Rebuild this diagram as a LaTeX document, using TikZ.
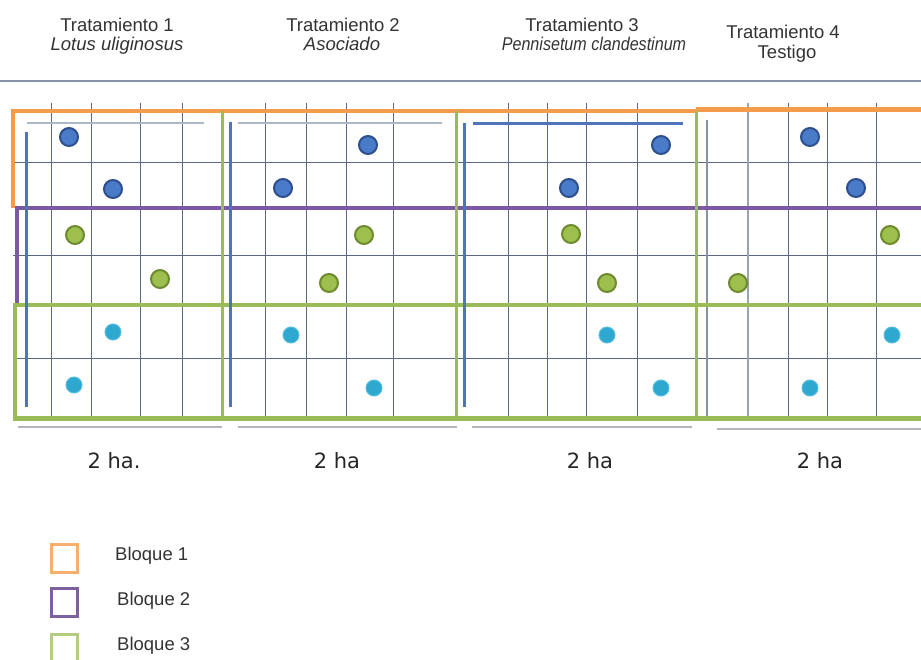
\documentclass[tikz,border=0pt]{standalone}
\usepackage{fontspec}
\setmainfont{Liberation Sans}
\newfontfamily\areafont{DejaVu Sans}
\usetikzlibrary{shapes.geometric}

\definecolor{gridc}{HTML}{5B6784}
\definecolor{gridpale}{HTML}{9AA3B2}
\definecolor{orangeb}{HTML}{F59B4C}
\definecolor{purpleb}{HTML}{7D58A6}
\definecolor{greenb}{HTML}{9BBB59}
\definecolor{accent}{HTML}{4F74B8}
\definecolor{paleacc}{HTML}{AEB7C6}
\definecolor{sepline}{HTML}{8493A8}
\definecolor{underline}{HTML}{B2B6BC}
\definecolor{dotblue}{HTML}{4A7BC8}
\definecolor{dotblueb}{HTML}{2E4E8C}
\definecolor{dotgreen}{HTML}{9CBF4E}
\definecolor{dotgreenb}{HTML}{6E8A2E}
\definecolor{dotcyan}{HTML}{2FA8CF}
\definecolor{dotcyanb}{HTML}{58BEDF}
\definecolor{txt}{HTML}{333333}

\tikzset{
  gridline/.style={draw=gridc, line width=1pt},
  blockone/.style={draw=orangeb, line width=4pt},
  blocktwo/.style={draw=purpleb, line width=4pt},
  blockthree/.style={draw=greenb, line width=4pt},
  plotedge/.style={draw=greenb, line width=3pt},
  accentline/.style={draw=accent, line width=3pt},
  paleline/.style={draw=paleacc, line width=2pt},
  baseline/.style={draw=underline, line width=2.5pt},
  dotb/.style={circle, inner sep=0pt, minimum size=18pt, fill=dotblue, draw=dotblueb, line width=2pt},
  dotg/.style={circle, inner sep=0pt, minimum size=18pt, fill=dotgreen, draw=dotgreenb, line width=2pt},
  dotc/.style={circle, inner sep=0pt, minimum size=16pt, fill=dotcyan, draw=dotcyanb, line width=1pt},
  head/.style={anchor=base, inner sep=0pt, text=txt, font=\fontsize{18.5}{18}\selectfont},
  area/.style={anchor=base, inner sep=0pt, text=black!85, font=\areafont\fontsize{21}{21}\selectfont},
  legbox/.style={draw, line width=3pt, minimum width=26pt, minimum height=28pt, inner sep=0pt},
  legtext/.style={anchor=base west, inner sep=0pt, text=txt, font=\fontsize{18.5}{18}\selectfont}
}

\begin{document}
\begin{tikzpicture}[x=1pt, y=-1pt]
\useasboundingbox (0,0) rectangle (921,659);

% header
\node[head] (h1a) at (117,31) {Tratamiento 1};
\node[head] (h1b) at (117,50) {\itshape Lotus uliginosus};
\node[head] (h2a) at (343,31) {Tratamiento 2};
\node[head] (h2b) at (342,50) {\itshape Asociado};
\node[head] (h3a) at (582,31) {Tratamiento 3};
\node[head] (h3b) at (594,50) {\scalebox{0.87}[1]{\itshape Pennisetum clandestinum}};
\node[head] (h4a) at (783,38) {Tratamiento 4};
\node[head] (h4b) at (787,58) {Testigo};

\draw[draw=sepline, line width=1.5pt] (0,81) -- (921,81);

% field grid
\foreach \gy in {162,255,358} \draw[gridline] (13,\gy) -- (921,\gy);
\foreach \gx in {51,91,140,182,265,306,346,393,508,547,586,637,788,827,876}
  \draw[gridline] (\gx,103) -- (\gx,418);
\draw[draw=gridpale, line width=2pt] (748,103) -- (748,418);
\draw[draw=sepline, line width=1.5pt] (707,120) -- (707,418);

% blocks
\draw[blockone] (696,111) -- (13,111) -- (13,208);
\draw[draw=orangeb, line width=5pt] (696,109.5) -- (921,109.5);
\draw[blocktwo] (921,208) -- (17,208) -- (17,305);
\draw[blockthree] (921,305) -- (15,305) -- (15,418);
\draw[draw=greenb, line width=5pt] (13,418) -- (921,418);
\foreach \ex in {222,456,696} \draw[plotedge] (\ex,111) -- (\ex,418);

% inner edges of each plot
\draw[accentline] (26,132) -- (26,407);
\draw[paleline] (27,123) -- (204,123);
\draw[accentline] (230,122) -- (230,407);
\draw[paleline] (238,123) -- (442,123);
\draw[accentline] (464,123) -- (464,407);
\draw[accentline] (473,123) -- (683,123);

% plot widths
\draw[baseline] (18,427) -- (222,427);
\draw[baseline] (238,427) -- (457,427);
\draw[baseline] (472,427) -- (692,427);
\draw[baseline] (717,429) -- (921,429);
\node[area] (a1) at (114,468) {2 ha.};
\node[area] (a2) at (337,468) {2 ha};
\node[area] (a3) at (590,468) {2 ha};
\node[area] (a4) at (820,468) {2 ha};

% sampling points
\node[dotb] (p1b1) at (69,137) {};
\node[dotb] (p1b2) at (113,189) {};
\node[dotg] (p1g1) at (75,235) {};
\node[dotg] (p1g2) at (160,279) {};
\node[dotc] (p1c1) at (113,332) {};
\node[dotc] (p1c2) at (74,385) {};

\node[dotb] (p2b1) at (368,145) {};
\node[dotb] (p2b2) at (283,188) {};
\node[dotg] (p2g1) at (364,235) {};
\node[dotg] (p2g2) at (329,283) {};
\node[dotc] (p2c1) at (291,335) {};
\node[dotc] (p2c2) at (374,388) {};

\node[dotb] (p3b1) at (661,145) {};
\node[dotb] (p3b2) at (569,188) {};
\node[dotg] (p3g1) at (571,234) {};
\node[dotg] (p3g2) at (607,283) {};
\node[dotc] (p3c1) at (607,335) {};
\node[dotc] (p3c2) at (661,388) {};

\node[dotb] (p4b1) at (810,137) {};
\node[dotb] (p4b2) at (856,188) {};
\node[dotg] (p4g1) at (890,235) {};
\node[dotg] (p4g2) at (738,283) {};
\node[dotc] (p4c1) at (892,335) {};
\node[dotc] (p4c2) at (810,388) {};

% legend
\node[legbox, draw=orangeb!80] (k1) at (64,558) {};
\node[legbox, draw=purpleb!80!gray] (k2) at (64,602.5) {};
\node[legbox, draw=greenb!75] (k3) at (64,648) {};
\node[legtext] (l1) at (115,560) {Bloque 1};
\node[legtext] (l2) at (117,605) {Bloque 2};
\node[legtext] (l3) at (117,650) {Bloque 3};
\end{tikzpicture}
\end{document}
